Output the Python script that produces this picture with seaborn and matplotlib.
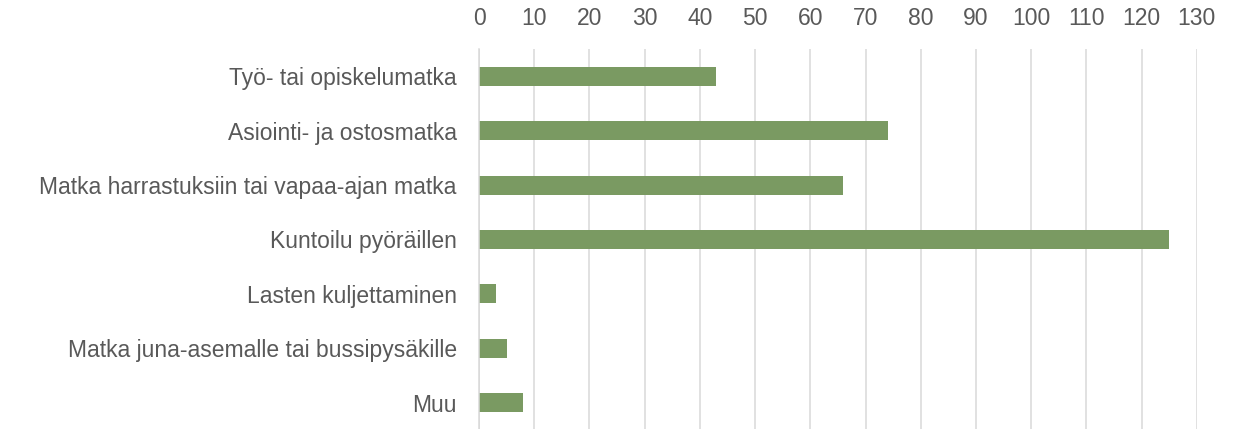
import pandas as pd
import matplotlib
matplotlib.use("Agg")
import matplotlib.pyplot as plt
import seaborn as sns

# data
categories = [
    "Työ- tai opiskelumatka",
    "Asiointi- ja ostosmatka",
    "Matka harrastuksiin tai vapaa-ajan matka",
    "Kuntoilu pyöräillen",
    "Lasten kuljettaminen",
    "Matka juna-asemalle tai bussipysäkille",
    "Muu",
]
values = [43, 74, 66, 125, 3, 5, 8]
x_ticks = list(range(0, 131, 10))

df = pd.DataFrame({"category": categories, "value": values})

sns.set_style("white")
plt.rcParams["font.family"] = ["Liberation Sans", "DejaVu Sans"]

fig = plt.figure(figsize=(12.43, 4.29), dpi=100)
ax = fig.add_axes([0.3854, -0.0023, 0.5774, 0.8881])

sns.barplot(data=df, x="value", y="category", orient="h", color="#7A9A62",
            width=0.35, saturation=1, linewidth=0, ax=ax)

ax.set_xlim(0, 130)
ax.set_xticks(x_ticks)
ax.xaxis.tick_top()
ax.grid(axis="x", color="#D9D9D9", linewidth=1.1)
ax.set_axisbelow(True)
ax.tick_params(axis="x", length=0, pad=14, labelsize=16.5, labelcolor="#595959")
ax.tick_params(axis="y", length=0, pad=16, labelsize=16.5, labelcolor="#595959")
ax.set_xlabel("")
ax.set_ylabel("")

for s in ["top", "right", "bottom"]:
    ax.spines[s].set_visible(False)
ax.spines["left"].set_color("#D9D9D9")
ax.spines["left"].set_linewidth(1.1)

fig.savefig("out.png", dpi=100)
